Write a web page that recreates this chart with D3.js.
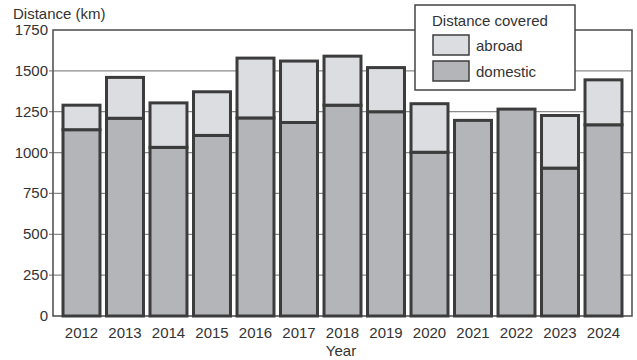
<!doctype html>
<html>
<head>
<meta charset="utf-8"/>
<script src="https://d3js.org/d3.v7.min.js"></script>
<style>
  body { margin:0; background:#fff; }
  text { font-family: "Liberation Sans", Arial, sans-serif; fill:#333; }
</style>
</head>
<body>
<script>
// data
const years    = ['2012','2013','2014','2015','2016','2017','2018','2019','2020','2021','2022','2023','2024'];
const domestic = [1140, 1210, 1032, 1105, 1212, 1184, 1290, 1250, 1002, 1197, 1266, 905, 1170];
const abroad   = [150, 250, 272, 267, 366, 376, 300, 270, 297, 0, 0, 322, 275];
const yTicks   = [0, 250, 500, 750, 1000, 1250, 1500, 1750];

const W = 637, H = 360;
const m = {left:53, right:5, top:30, bottom:44};

let svg = d3.select('body').append('svg').attr('width', W).attr('height', H);

var x = d3.scaleBand().domain(years).range([m.left, W - m.right]).paddingInner(0.15).paddingOuter(0.23);
var y = d3.scaleLinear().domain([0, 1750]).range([H - m.bottom, m.top]);

// grid lines (also act as ticks left of the axis)
svg.selectAll('.grid')
   .data(yTicks.filter(d => d > 0 && d < 1750))
   .enter().append('line')
    .attr('x1', m.left - 4).attr('x2', W - m.right)
    .attr('y1', d => y(d)).attr('y2', d => y(d))
    .style('stroke', '#8a8a8a').style('stroke-width', 1.2);

// frame
svg.append('rect')
   .attr('x', m.left).attr('y', y(1750))
   .attr('width', W - m.right - m.left).attr('height', y(0) - y(1750))
   .style('fill', 'none').style('stroke', '#555').style('stroke-width', 1.6);

// y tick labels
svg.selectAll('.ylab')
   .data(yTicks)
   .enter().append('text')
    .attr('x', m.left - 5).attr('y', d => y(d) + 5)
    .attr('text-anchor', 'end').style('font-size', '15px')
    .text(d => d);

const stack = years.map((d, i) => ({ year: d, dom: domestic[i], abr: abroad[i] }));

// domestic segments
svg.selectAll('.dom')
   .data(stack)
   .enter().append('rect')
    .attr('x', d => x(d.year)).attr('width', x.bandwidth())
    .attr('y', d => y(d.dom)).attr('height', d => y(0) - y(d.dom))
    .style('fill', '#b4b5b9').style('stroke', '#3c3c3c').style('stroke-width', 3);

// abroad segments
svg.selectAll('.abr')
   .data(stack.filter(d => d.abr > 0))
   .enter().append('rect')
    .attr('x', d => x(d.year)).attr('width', x.bandwidth())
    .attr('y', d => y(d.dom + d.abr)).attr('height', d => y(d.dom) - y(d.dom + d.abr))
    .style('fill', '#dcdde0').style('stroke', '#3c3c3c').style('stroke-width', 3);

// x labels
svg.selectAll('.xlab')
   .data(years)
   .enter().append('text')
    .attr('x', d => x(d) + x.bandwidth() / 2).attr('y', H - 22)
    .attr('text-anchor', 'middle').style('font-size', '15px')
    .text(d => d);

svg.append('text').attr('x', 341).attr('y', H - 4).attr('text-anchor', 'middle')
   .style('font-size', '15px').text('Year');

svg.append('text').attr('x', 13).attr('y', 19).style('font-size', '15px').text('Distance (km)');

// legend
let lg = svg.append('g');
lg.append('rect').attr('x', 415).attr('y', 5).attr('width', 160).attr('height', 85)
  .style('fill', '#fff').style('stroke', '#444').style('stroke-width', 1.5);
lg.append('text').attr('x', 432).attr('y', 26).style('font-size', '15px').text('Distance covered');
[['abroad', '#dcdde0'], ['domestic', '#b4b5b9']].forEach((d, i) => {
  lg.append('rect').attr('x', 433).attr('y', 35 + i * 26).attr('width', 36).attr('height', 20)
    .style('fill', d[1]).style('stroke', '#3c3c3c').style('stroke-width', 1.5);
  lg.append('text').attr('x', 476).attr('y', 51 + i * 26).style('font-size', '15px').text(d[0]);
});
</script>
</body>
</html>
